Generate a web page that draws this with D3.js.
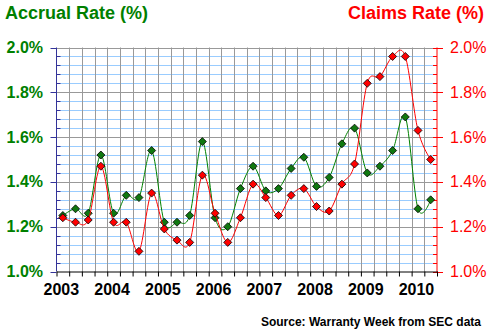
<!DOCTYPE html>
<html><head><meta charset="utf-8">
<script src="https://cdn.jsdelivr.net/npm/d3@7"></script>
<style>body{margin:0;background:#fff}svg{display:block}text{font-family:"Liberation Sans",Arial,sans-serif}</style>
</head><body>
<svg id="c" width="493" height="333"></svg>
<script>
const years = [2003,2004,2005,2006,2007,2008,2009,2010];
const quarters = ["Q1","Q2","Q3","Q4"];
const periods = [];
years.forEach(y => quarters.forEach(q => { if (periods.length < 30) periods.push(y + " " + q); }));
const accrual = [1.25,1.28,1.26,1.52, 1.26,1.34,1.33,1.54, 1.22,1.22,1.25,1.58, 1.24,1.20,1.37,1.47, 1.36,1.37,1.46,1.51, 1.38,1.42,1.57,1.64, 1.44,1.47,1.54,1.69, 1.28,1.32];
const claims  = [1.24,1.22,1.23,1.47, 1.22,1.22,1.09,1.35, 1.19,1.14,1.13,1.43, 1.26,1.13,1.24,1.39, 1.33,1.25,1.34,1.37, 1.29,1.27,1.39,1.48, 1.84,1.87,1.96,1.96, 1.63,1.50];
const yTicks = [1.0,1.2,1.4,1.6,1.8,2.0];

const svg = d3.select("#c");
const L = 56.5, R = 437, T = 47.5, B = 271.5;
const x = d3.scaleLinear().domain([0, periods.length]).range([L, R]);
const y = d3.scaleLinear().domain([1.0, 2.0]).range([B, T]);
const minor = d3.range(1, 25).map(i => 1 + i * 0.04).filter(v => Math.abs((v*100) % 20) > 0.5 && Math.abs((v*100)%20 - 20) > 0.5);

svg.append("rect").attr("width",493).attr("height",333).attr("fill","#fff");

// minor horizontal gridlines
svg.append("g").selectAll("line").data(minor).join("line")
  .attr("x1", L).attr("x2", R).attr("y1", d => Math.round(y(d)) + 0.5).attr("y2", d => Math.round(y(d)) + 0.5)
  .attr("stroke", "#99ccff");
// vertical gridlines
svg.append("g").selectAll("line").data(d3.range(1, periods.length)).join("line")
  .attr("x1", d => Math.round(x(d)) + 0.5).attr("x2", d => Math.round(x(d)) + 0.5).attr("y1", T).attr("y2", B)
  .attr("stroke", "#999");
// major horizontal gridlines
svg.append("g").selectAll("line").data(yTicks.slice(1)).join("line")
  .attr("x1", L).attr("x2", R).attr("y1", d => Math.round(y(d)) + 0.5).attr("y2", d => Math.round(y(d)) + 0.5)
  .attr("stroke", "#999");

// left axis
const gl = svg.append("g");
gl.append("line").attr("x1", L).attr("x2", L).attr("y1", T).attr("y2", B).attr("stroke", "#333399");
gl.selectAll(".mj").data(yTicks).join("line").attr("x1", L - 6).attr("x2", L)
  .attr("y1", d => Math.round(y(d)) + 0.5).attr("y2", d => Math.round(y(d)) + 0.5).attr("stroke", "#333399");
gl.selectAll(".mn").data(minor).join("line").attr("class","mn").attr("x1", L).attr("x2", L + 4)
  .attr("y1", d => Math.round(y(d)) + 0.5).attr("y2", d => Math.round(y(d)) + 0.5).attr("stroke", "#333399");
gl.selectAll("text").data(yTicks).join("text").attr("x", 43).attr("y", d => y(d) + 5.5)
  .attr("text-anchor", "end").attr("fill", "#008000").attr("font-size", 16).attr("font-weight", "bold")
  .text(d => d.toFixed(1) + "%");

// right axis
const gr = svg.append("g");
gr.append("line").attr("x1", R).attr("x2", R).attr("y1", T).attr("y2", B + 1).attr("stroke", "#ff0000");
gr.selectAll(".mj").data(yTicks).join("line").attr("x1", R - 4).attr("x2", R + 6)
  .attr("y1", d => Math.round(y(d)) + 0.5).attr("y2", d => Math.round(y(d)) + 0.5).attr("stroke", "#ff0000");
gr.selectAll(".mn").data(minor).join("line").attr("class","mn").attr("x1", R - 4).attr("x2", R)
  .attr("y1", d => Math.round(y(d)) + 0.5).attr("y2", d => Math.round(y(d)) + 0.5).attr("stroke", "#ff0000");
gr.selectAll("text").data(yTicks).join("text").attr("x", 450).attr("y", d => y(d) + 5.5)
  .attr("fill", "#ff0000").attr("font-size", 16)
  .text(d => d.toFixed(1) + "%");

// bottom axis
const gb = svg.append("g").attr("transform", `translate(0,${B})`)
  .call(d3.axisBottom(x).tickValues(d3.range(0, periods.length + 1)).tickFormat("").tickSize(5).tickSizeOuter(0));
gb.select(".domain").attr("stroke", "#000");
gb.selectAll(".tick line").attr("stroke", "#000");
svg.append("g").selectAll("text").data(years).join("text")
  .attr("x", (d, i) => x(i * 4 + 0.5) - 1.5).attr("y", 295)
  .attr("text-anchor", "middle").attr("font-size", 16).attr("font-weight", "bold").attr("fill", "#000")
  .text(d => d);

// series
const line = d3.line().x((d, i) => x(i + 0.5)).y(d => y(d)).curve(d3.curveCatmullRom.alpha(0));
const diamond = "M0,-4L4,0L0,4L-4,0Z";
function series(vals, lc, fc) {
  svg.append("path").datum(vals).attr("d", line).attr("fill", "none").attr("stroke", lc).attr("stroke-width", 1);
  svg.append("g").selectAll("path").data(vals).join("path")
    .attr("d", diamond).attr("transform", (d, i) => `translate(${x(i + 0.5)},${y(d)})`)
    .attr("fill", fc).attr("stroke", "#000").attr("stroke-width", 0.8);
}
series(accrual, "#008000", "#107810");
series(claims, "#ff0000", "#ff0000");

// titles
svg.append("text").attr("x", 5).attr("y", 18.5).attr("font-size", 18).attr("font-weight", "bold")
  .attr("fill", "#008000").text("Accrual Rate (%)");
svg.append("text").attr("x", 484).attr("y", 18.5).attr("text-anchor", "end").attr("font-size", 18).attr("font-weight", "bold")
  .attr("fill", "#ff0000").text("Claims Rate (%)");
svg.append("text").attr("x", 481).attr("y", 326).attr("text-anchor", "end").attr("font-size", 12).attr("font-weight", "bold")
  .attr("fill", "#000").text("Source: Warranty Week from SEC data");
</script>
</body></html>
